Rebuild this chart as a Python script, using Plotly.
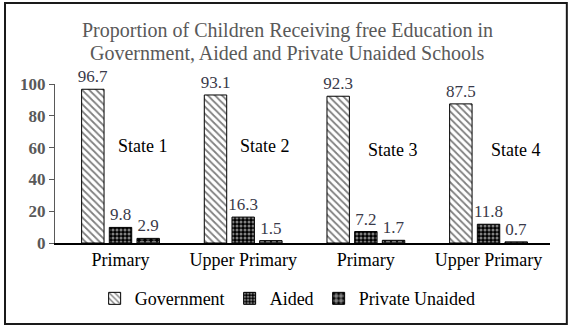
import plotly.graph_objects as go

# Education level of each state group, shown under the x axis
categories = ["Primary", "Upper Primary", "Primary", "Upper Primary"]
states = ["State 1", "State 2", "State 3", "State 4"]

# Proportion of children receiving free education (%)
government = [96.7, 93.1, 92.3, 87.5]
aided = [9.8, 16.3, 7.2, 11.8]
private_unaided = [2.9, 1.5, 1.7, 0.7]

title_lines = ["Proportion of Children Receiving free Education in",
               "Government, Aided and Private Unaided Schools"]

x_pos = list(range(len(categories)))
serif = "Liberation Serif, Times New Roman, serif"
label_font = dict(family=serif, size=17, color="#3a3a4a")

series = [
    ("Government", government, dict(shape="\\", fgcolor="black", bgcolor="white", size=5, solidity=0.35)),
    ("Aided", aided, dict(shape=".", fgcolor="white", bgcolor="black", size=4, solidity=0.45)),
    ("Private Unaided", private_unaided, dict(shape=".", fgcolor="white", bgcolor="black", size=6, solidity=0.6)),
]

fig = go.Figure()
for name, vals, pattern in series:
    fig.add_trace(go.Bar(
        x=x_pos, y=vals, name=name,
        marker=dict(color="white", line=dict(color="black", width=1), pattern=pattern),
        text=vals, texttemplate="%{y}", textposition="outside",
        textfont=label_font, constraintext="none", cliponaxis=False,
    ))

# State name placed inside each group, in data coordinates
state_xy = [(0.18, 61), (1.18, 61), (2.22, 58.5), (3.22, 58.5)]
for s, (sx, sy) in zip(states, state_xy):
    fig.add_annotation(x=sx, y=sy, text=s, showarrow=False,
                       font=dict(family=serif, size=18, color="black"))

# Two-line chart title centred on the page
for line, ty in zip(title_lines, [1.335, 1.197]):
    fig.add_annotation(
        x=0.47, xref="paper", xanchor="center", y=ty, yref="paper", yanchor="middle",
        text=line, showarrow=False, font=dict(family=serif, size=20, color="#595959"),
    )

# Frame around the whole chart
fig.add_shape(type="rect", xref="paper", yref="paper",
              x0=-0.101, x1=1.034, y0=-0.509, y1=1.509,
              line=dict(color="#1a1a1a", width=2))

fig.update_layout(
    width=572, height=329,
    margin=dict(l=55, r=22, t=84, b=86),
    paper_bgcolor="white", plot_bgcolor="white",
    barmode="group", bargap=0.323, bargroupgap=0.19,
    font=dict(family=serif, color="black"),
    showlegend=True,
    legend=dict(orientation="h", x=0.47, xanchor="center", y=-0.35, yanchor="middle",
                font=dict(family=serif, size=18, color="black"),
                itemwidth=30, tracegroupgap=0),
    xaxis=dict(tickmode="array", tickvals=x_pos, ticktext=categories,
               range=[-0.534, 3.501],
               showline=True, linecolor="black", linewidth=1.5,
               ticks="", showgrid=False, zeroline=False,
               tickfont=dict(family=serif, size=18, color="black")),
    yaxis=dict(range=[0, 100], dtick=20, showgrid=False, zeroline=False,
               showline=True, linecolor="#595959", linewidth=1,
               ticks="outside", ticklen=5, tickcolor="#595959",
               tickfont=dict(family=serif, size=17, color="#595959", weight="bold")),
)

fig.write_html("out.html")
